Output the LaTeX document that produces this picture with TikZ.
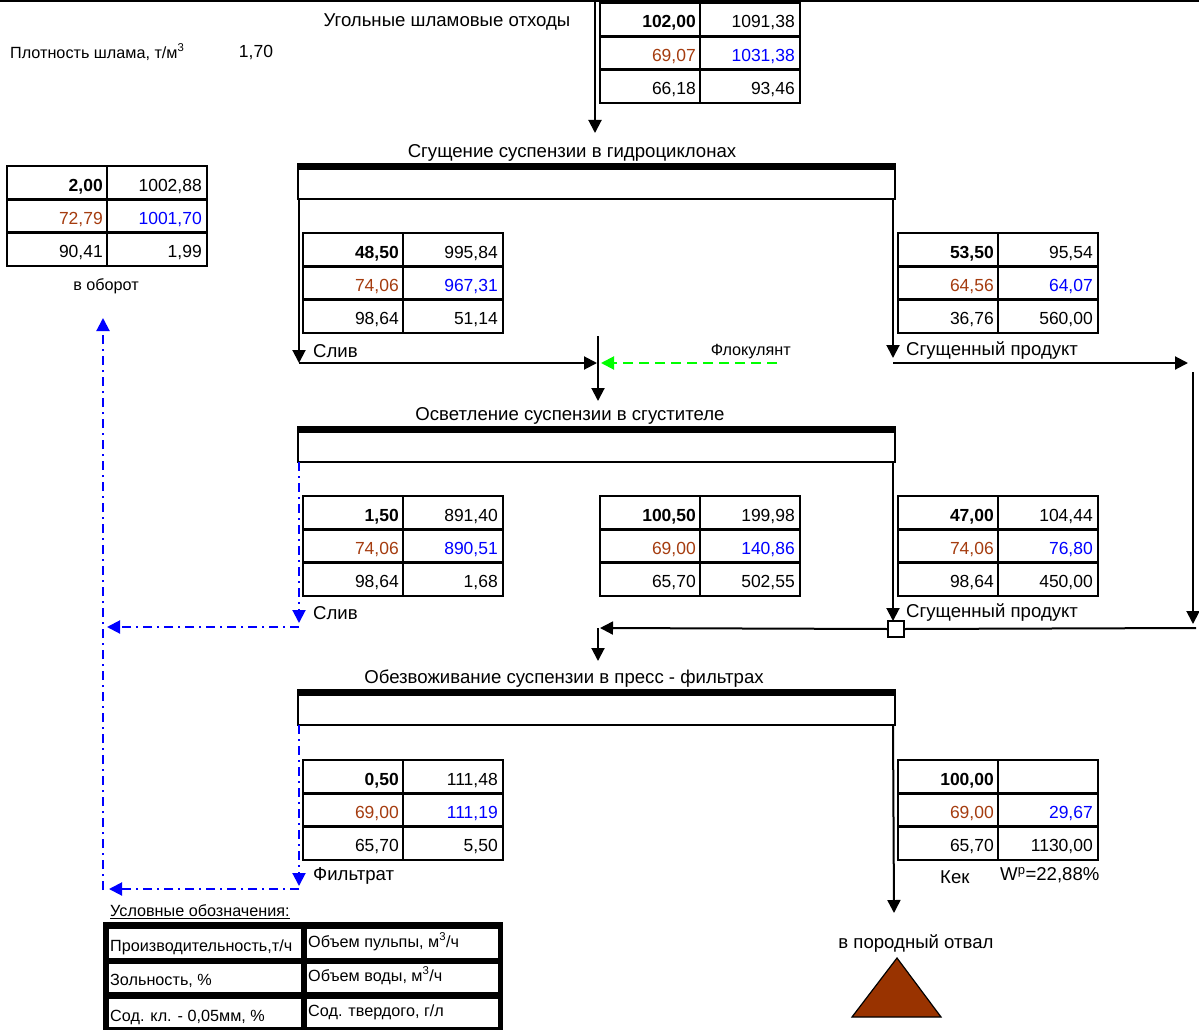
\documentclass[tikz,border=0pt]{standalone}
\usepackage{fontspec}
\setmainfont{Liberation Sans}
\usetikzlibrary{arrows.meta}
\definecolor{brn}{RGB}{165,60,15}
\definecolor{blu}{RGB}{0,0,255}
\definecolor{grn}{RGB}{0,255,0}
\definecolor{dump}{RGB}{153,51,0}
\newcommand\bigf{\fontsize{17.5}{20}\selectfont}
\newcommand\labf{\fontsize{18.6}{21}\selectfont}
\newcommand\smallf{\fontsize{16.2}{19}\selectfont}
\newcommand\datatable[9]{%
  \node[tbox] (#1) at ({#2+100},{#3+50}) {};
  \draw[tgrid] ({#2},{#3+33.33}) -- ++(200,0);
  \draw[tgrid] ({#2},{#3+66.67}) -- ++(200,0);
  \draw[tgrid] ({#2+100},{#3}) -- ++(0,100);
  \node[val] (#1-a) at ({#2+96},{#3+25}) {\bfseries #4};
  \node[val] (#1-b) at ({#2+195},{#3+25}) {#5};
  \node[val,text=brn] (#1-c) at ({#2+96},{#3+58.3}) {#6};
  \node[val,text=blu] (#1-d) at ({#2+195},{#3+58.3}) {#7};
  \node[val] (#1-e) at ({#2+96},{#3+91.7}) {#8};
  \node[val] (#1-f) at ({#2+195},{#3+91.7}) {#9};
}
\newcommand\procbox[4]{%
  \node[proc] (#1) at (596.5,{#2+17.5}) {};
  \draw[line width=6pt] ([yshift=-3pt]#1.north west) -- ([yshift=-3pt]#1.north east);
  \node[ttl] (#1-t) at ({#3},{#2-11}) {#4};
}
\begin{document}
\begin{tikzpicture}[x=1pt,y=-1pt,
  tbox/.style={draw, line width=2.5pt, minimum width=200pt, minimum height=100pt, inner sep=0pt, outer sep=0pt},
  tgrid/.style={line width=2.5pt},
  val/.style={anchor=base east, inner sep=0pt, font=\bigf},
  proc/.style={draw, line width=1.5pt, minimum width=597pt, minimum height=35pt, inner sep=0pt, outer sep=0pt},
  ttl/.style={inner sep=0pt, font=\labf},
  lbl/.style={inner sep=0pt, anchor=west, font=\labf},
  small/.style={inner sep=0pt, font=\smallf},
  tip/.style={-{Triangle[length=13pt,width=13pt]}},
  arr/.style={draw, line width=2pt, tip},
  barr/.style={draw=blu, line width=2pt, dash pattern=on 9pt off 5pt on 2pt off 5pt, tip},
  garr/.style={draw=grn, line width=2pt, dash pattern=on 10pt off 6pt, tip},
  plain/.style={draw, line width=2pt},
]
\useasboundingbox (0,0) rectangle (1199,1030);
\fill[white] (0,0) rectangle (1199,1030);

% top border line
\coordinate (topL) at (0,1);
\coordinate (topR) at (1199,1);
\draw[line width=2pt] (topL) -- (topR);

% header texts
\node[ttl] (feedname) at (447,22) {Угольные шламовые отходы};
\node[small, anchor=west] (dens) at (10,52) {Плотность шлама, т/м\textsuperscript{3}};
\node[small, font=\bigf] (densv) at (256,53) {1,70};

% tables
\datatable{T0}{600}{3}{102,00}{1091,38}{69,07}{1031,38}{66,18}{93,46}
\datatable{Tret}{7}{166}{2,00}{1002,88}{72,79}{1001,70}{90,41}{1,99}
\datatable{T1L}{303}{233}{48,50}{995,84}{74,06}{967,31}{98,64}{51,14}
\datatable{T1R}{898}{233}{53,50}{95,54}{64,56}{64,07}{36,76}{560,00}
\datatable{T2L}{303}{496}{1,50}{891,40}{74,06}{890,51}{98,64}{1,68}
\datatable{T2M}{600}{496}{100,50}{199,98}{69,00}{140,86}{65,70}{502,55}
\datatable{T2R}{898}{496}{47,00}{104,44}{74,06}{76,80}{98,64}{450,00}
\datatable{T3L}{303}{760}{0,50}{111,48}{69,00}{111,19}{65,70}{5,50}
\datatable{T3R}{898}{760}{100,00}{}{69,00}{29,67}{65,70}{1130,00}

\node[small] (oborot) at (106,286) {в оборот};

% process boxes
\procbox{P1}{164}{572}{Сгущение суспензии в гидроциклонах}
\procbox{P2}{427}{570}{Осветление суспензии в сгустителе}
\procbox{P3}{690}{564}{Обезвоживание суспензии в пресс - фильтрах}

% feed
\coordinate (feedtop) at (595,1);
\coordinate (P1in) at (595,133);
\draw[arr] (feedtop) -- (P1in);

% stage 1 outputs
\coordinate (s1) at (299,363);
\coordinate (j1) at (597,363);
\coordinate (j1top) at (598,336);
\coordinate (P2in) at (598,401);
\coordinate (flk) at (777,363);
\coordinate (j1r) at (601,363);
\draw[arr] ([xshift=1pt]P1.south west) -- (s1);
\draw[arr] (s1) -- (j1);
\draw[arr] (j1top) -- (P2in);
\draw[garr] (flk) -- (j1r);
\node[lbl] (sliv1) at (313,351) {Слив};
\node[small, anchor=east] (flklbl) at (791,352) {Флокулянт};

\coordinate (c1) at (893,358);
\coordinate (c1a) at (893,363);
\coordinate (c1b) at (1188,363);
\coordinate (c1c) at (1193,372);
\coordinate (c1d) at (1193,624);
\draw[arr] ([xshift=-2pt]P1.south east) -- (c1);
\draw[arr] (c1a) -- (c1b);
\draw[arr] (c1c) -- (c1d);
\node[lbl] (sg1) at (906,351) {Сгущенный продукт};

% stage 2 outputs
\node[draw, line width=1.5pt, minimum size=16pt, inner sep=0pt, outer sep=0pt, fill=white] (sq) at (896,629) {};
\coordinate (rr) at (1196,628);
\coordinate (ll) at (600,628);
\coordinate (ll2) at (598,628);
\coordinate (P3in) at (598,661);
\draw[arr] (893,462) -- (sq.north -| 893,0);
\draw[plain] (rr) -- (sq.east);
\draw[arr] (sq.west) -- (ll);
\draw[arr] (ll2) -- (P3in);
\node[lbl] (sg2) at (906,613) {Сгущенный продукт};

\coordinate (b1) at (299,623);
\coordinate (b1a) at (299,627);
\coordinate (b1b) at (107,627);
\draw[barr] ([xshift=1pt]P2.south west) -- (b1);
\draw[barr] (b1a) -- (b1b);
\node[lbl] (sliv2) at (313,613) {Слив};

% stage 3 outputs
\coordinate (b2) at (299,886);
\coordinate (b2a) at (299,889);
\coordinate (b2b) at (109,889);
\coordinate (bup0) at (103,890);
\coordinate (bup1) at (103,318);
\draw[barr] ([xshift=1pt]P3.south west) -- (b2);
\draw[barr] (b2a) -- (b2b);
\draw[barr] (bup0) -- (bup1);
\node[lbl] (filt) at (313,876) {Фильтрат};

\coordinate (kekend) at (894,913);
\draw[arr] ([xshift=-2pt]P3.south east) -- (kekend);
\node[lbl] (kek) at (940,877) {Кек};
\node[lbl] (wp) at (1000,875) {W\textsuperscript{p}=22,88\%};

\node[ttl] (otval) at (916,944) {в породный отвал};
\coordinate (ta) at (897,958);
\coordinate (tb) at (852,1017);
\coordinate (tc) at (941,1017);
\draw[fill=dump, line width=1.2pt, line join=miter] (ta) -- (tb) -- (tc) -- cycle;

% legend
\node[small, anchor=west] (leghead) at (110,912) {\underline{Условные обозначения:}};
\fill[black] (103,922) rectangle (503,1030);
\fill[white] (109,929) rectangle (301,958);
\fill[white] (307,929) rectangle (498,958);
\fill[white] (109,964) rectangle (301,992);
\fill[white] (307,964) rectangle (498,992);
\fill[white] (109,999) rectangle (301,1027);
\fill[white] (307,999) rectangle (498,1027);
\node[small, anchor=base west] (L1) at (110,951) {Производительность,т/ч};
\node[small, anchor=base west] (L2) at (110,985) {Зольность, \%};
\node[small, anchor=base west] (L3) at (110,1021) {Сод. кл. - 0,05мм, \%};
\node[small, anchor=base west] (R1) at (308,947) {Объем пульпы, м\textsuperscript{3}/ч};
\node[small, anchor=base west] (R2) at (308,981) {Объем воды, м\textsuperscript{3}/ч};
\node[small, anchor=base west] (R3) at (308,1016) {Сод. твердого, г/л};
\end{tikzpicture}
\end{document}
